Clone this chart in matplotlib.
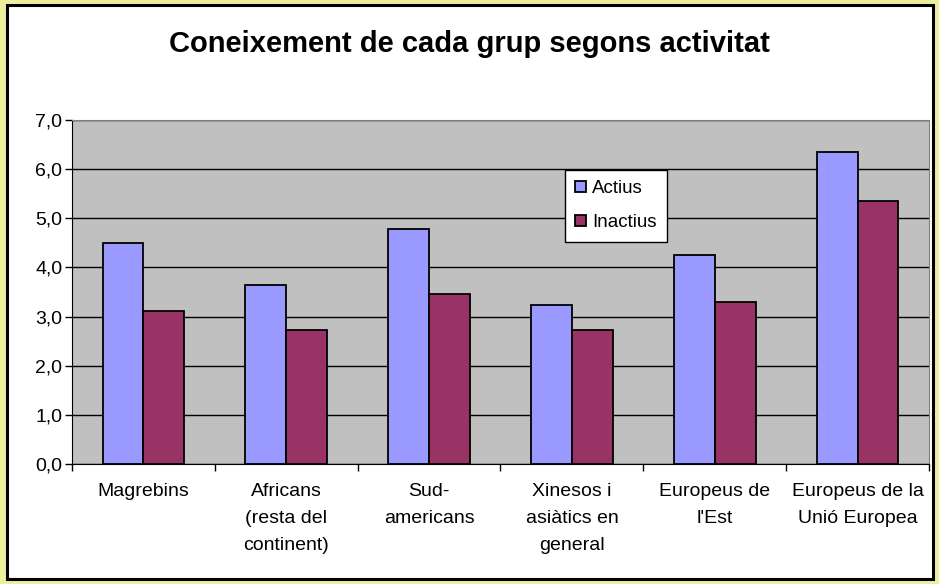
import matplotlib.pyplot as plt
import numpy as np
from matplotlib.patches import Rectangle

plt.rcParams['font.family'] = ['Liberation Sans', 'DejaVu Sans']

groups = ['Magrebins', 'Africans\n(resta del\ncontinent)', 'Sud-\namericans',
          'Xinesos i\nasiàtics en\ngeneral', "Europeus de\nl'Est", 'Europeus de la\nUnió Europea']
actius = [4.50, 3.64, 4.78, 3.24, 4.25, 6.34]
inactius = [3.11, 2.72, 3.46, 2.73, 3.30, 5.36]
yticks = [0, 1, 2, 3, 4, 5, 6, 7]

fig = plt.figure(figsize=(9.39, 5.84), dpi=100, facecolor='#EEEEA0')
# white chart area with black border
fig.patches.append(Rectangle((7/939, 5/584), 926/939, 574/584, transform=fig.transFigure,
                             facecolor='white', edgecolor='black', linewidth=2.2, zorder=-5))

ax = fig.add_axes([72/939, 1 - 464/584, 857/939, 344/584])
ax.set_facecolor('#C0C0C0')

x = np.arange(len(groups))
w = 1 / 3.5
ax.bar(x - w/2, actius, w, color='#9999FF', edgecolor='black', linewidth=1.3, label='Actius', zorder=3)
ax.bar(x + w/2, inactius, w, color='#993366', edgecolor='black', linewidth=1.3, label='Inactius', zorder=3)

ax.set_xlim(-0.5, len(groups) - 0.5)
ax.set_ylim(0, 7)
ax.set_yticks(yticks)
ax.set_yticklabels([('%.1f' % v).replace('.', ',') for v in yticks])
ax.yaxis.grid(True, color='black', linewidth=1)
ax.set_axisbelow(True)

ax.set_xticks(x)
ax.set_xticklabels(groups, fontsize=14, linespacing=1.75, va='top')
ax.set_xticks(np.arange(len(groups) + 1) - 0.5, minor=True)
ax.tick_params(axis='x', which='major', length=0, pad=14)
ax.tick_params(axis='x', which='minor', length=5, width=1, direction='out')
ax.tick_params(axis='y', length=5, width=1, direction='out', labelsize=14, pad=2)

for s in ['top', 'right']:
    ax.spines[s].set_color('#808080')
ax.spines['left'].set_color('black')
ax.spines['bottom'].set_color('black')

fig.text(0.5, 1 - 44/584, 'Coneixement de cada grup segons activitat', ha='center', va='center',
         fontsize=21, fontweight='bold')

leg = ax.legend(loc='upper left', bbox_to_anchor=((565 - 72)/857, (464 - 170)/344),
                frameon=True, fancybox=False, edgecolor='black', facecolor='white', framealpha=1,
                fontsize=13.5, handlelength=0.55, handleheight=0.55, handletextpad=0.35,
                labelspacing=0.9, borderpad=0.55, borderaxespad=0)
leg.get_frame().set_linewidth(1)

fig.savefig('out.png', dpi=100, facecolor=fig.get_facecolor())
